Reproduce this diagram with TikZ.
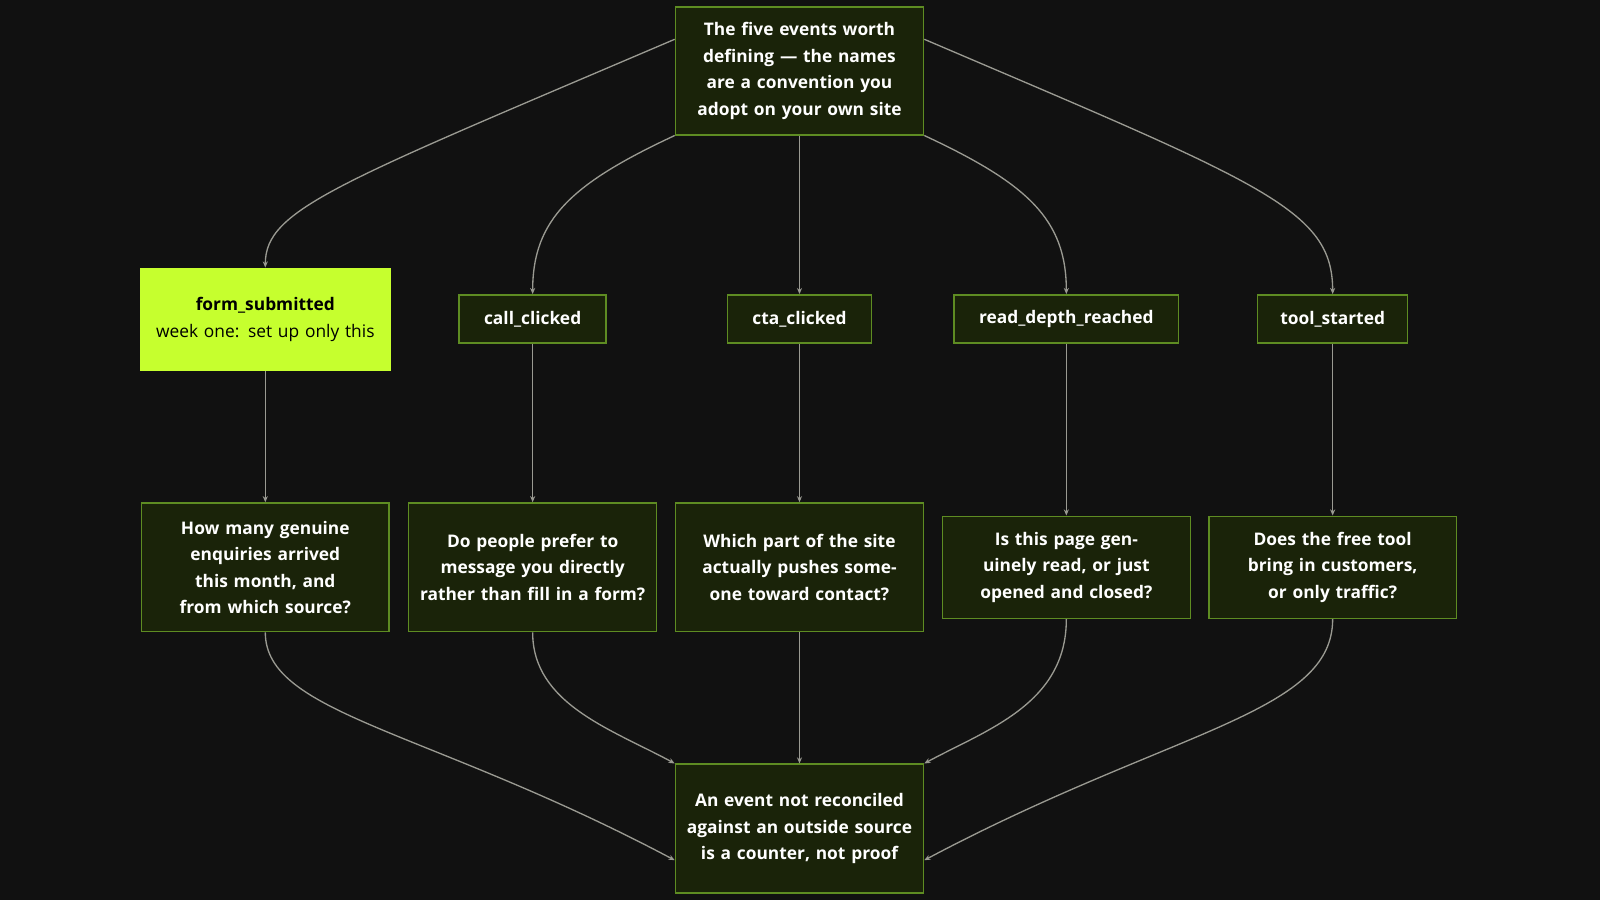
\documentclass[tikz,border=0pt]{standalone}
\usepackage{fontspec}
\setmainfont{Open Sans}
\usetikzlibrary{arrows.meta,positioning}
\definecolor{bgdark}{HTML}{111111}
\definecolor{boxfill}{HTML}{1A2309}
\definecolor{boxline}{HTML}{5E8C22}
\definecolor{lime}{HTML}{C6FF2E}
\definecolor{edgegrey}{HTML}{9A9A92}
\begin{document}
\begin{tikzpicture}[x=1pt,y=-1pt,
	basic/.style = {draw=boxline, line width=1.6pt, fill=boxfill, rectangle, align=center,
		text=white, font=\fontsize{17}{26}\selectfont\bfseries, inner xsep=8pt, inner ysep=0pt},
	event/.style = {basic, minimum height=47pt},
	question/.style = {basic, text width=227pt},
	chosen/.style = {basic, fill=lime, draw=lime, text=black, text width=228pt, minimum height=100pt},
	link/.style = {draw=edgegrey, line width=1.3pt, -{Stealth[length=6pt,width=5pt]}}]

	\fill[bgdark] (0,0) rectangle (1568,882);
	\useasboundingbox (0,0) rectangle (1568,882);

	% Root of the picture
	\node[question, minimum height=125pt] (top) at (783.5,69.5) {The five events worth defining --- the names are a convention you adopt on your own site};

	% The events
	\node[chosen] (ev1) at (260,313) {form\_submitted\\{\mdseries week one: set up only this}};
	\node[event, minimum width=144pt] (ev2) at (522,312.5) {call\_clicked};
	\node[event, minimum width=141pt] (ev3) at (783.5,312.5) {cta\_clicked};
	\node[event, minimum width=220pt] (ev4) at (1045,312.5) {read\_depth\_reached};
	\node[event, minimum width=147pt] (ev5) at (1306,312.5) {tool\_started};

	% The questions
	\node[question, minimum height=126pt] (q1) at (260,556) {How many genuine enquiries arrived this month, and from which source?};
	\node[question, minimum height=126pt] (q2) at (522,556) {Do people prefer to message you directly rather than fill in a form?};
	\node[question, minimum height=126pt] (q3) at (783.5,556) {Which part of the site actually pushes someone toward contact?};
	\node[question, minimum height=100pt] (q4) at (1045,556) {Is this page genuinely read, or just opened and closed?};
	\node[question, minimum height=100pt] (q5) at (1306,556) {Does the free tool bring in customers, or only traffic?};

	% The end
	\node[question, minimum height=126pt] (end) at (783.5,812) {An event not reconciled against an outside source is a counter, not proof};

	% Lines from the root to each event
	\draw[link] ([yshift=31pt]top.west) .. controls (330,180) and (260,205) .. (ev1.north);
	\draw[link] (top.south west) .. controls (560,180) and (522,215) .. (ev2.north);
	\draw[link] (top) -- (ev3);
	\draw[link] (top.south east) .. controls (1007,180) and (1045,215) .. (ev4.north);
	\draw[link] ([yshift=31pt]top.east) .. controls (1237,180) and (1306,205) .. (ev5.north);

	\foreach \value in {1,...,5}
	\draw[link] (ev\value) -- (q\value);

	% Lines from the questions to the end
	\draw[link] (q1.south) .. controls (260,700) and (420,715) .. ([yshift=-31pt]end.east -| end.west);
	\draw[link] (q2.south) .. controls (522,690) and (600,715) .. (end.north west);
	\draw[link] (q3) -- (end);
	\draw[link] (q4.south) .. controls (1045,690) and (967,715) .. (end.north east);
	\draw[link] (q5.south) .. controls (1306,700) and (1147,715) .. ([yshift=-31pt]end.east);
\end{tikzpicture}
\end{document}
